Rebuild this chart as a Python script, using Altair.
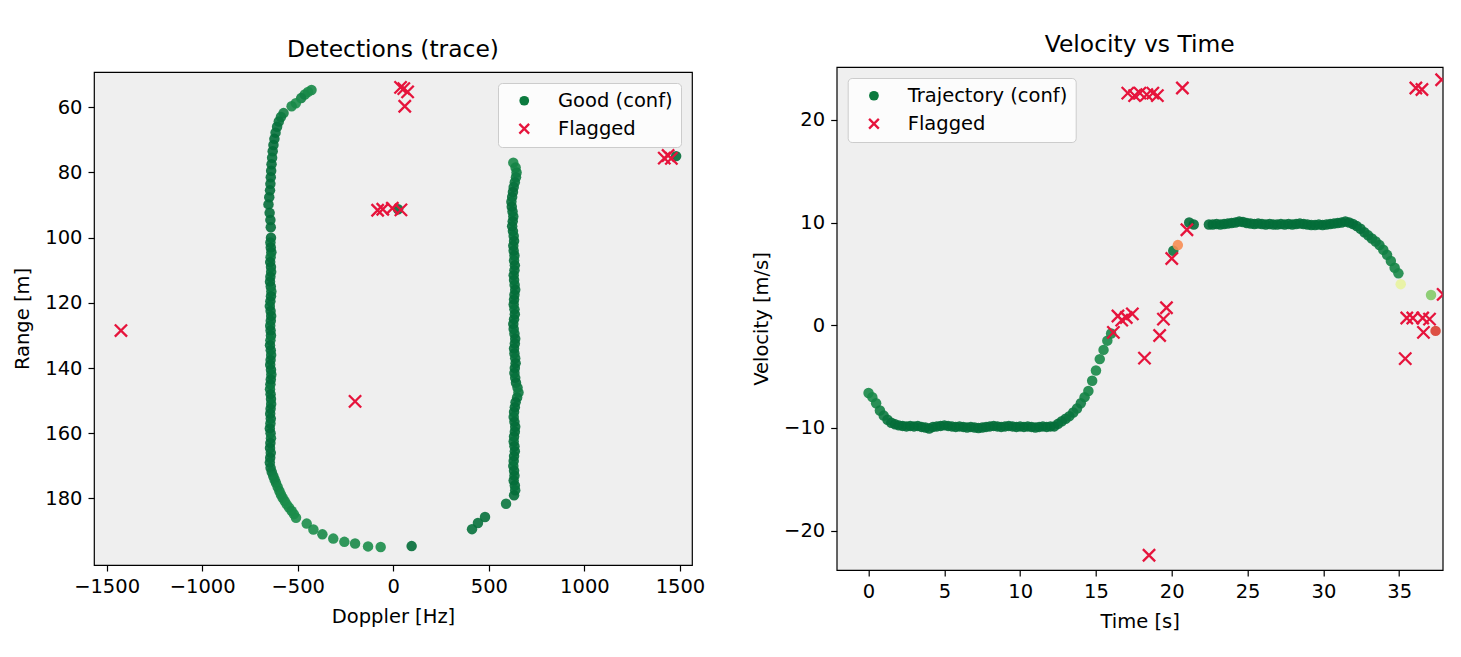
import altair as alt
import pandas as pd

# ---------------- Left panel: Detections (trace) ----------------
# Good (confirmed) detections: Doppler [Hz], Range [m], confidence
top_arc_doppler = [-428, -446, -463, -482, -510, -532, -574, -588, -599, -608, -616, -622, -627,
                   -631, -634, -637, -639, -641, -643, -645, -649, -653, -647, -643, -641]
top_arc_range = [54.7, 55.3, 56.1, 57.2, 58.8, 59.7, 61.8, 63.0, 64.4, 66.0, 67.8, 69.7, 71.6,
                 73.5, 75.5, 77.5, 79.5, 81.5, 83.5, 85.5, 87.6, 89.8, 92.4, 94.6, 96.8]
top_arc_conf = [0.93, 0.92, 0.93, 0.95, 0.92, 0.93, 0.95, 0.96, 0.97, 0.98, 0.98, 0.99, 0.99,
                0.99, 0.98, 0.99, 0.99, 0.99, 0.99, 0.99, 0.99, 0.99, 0.99, 0.99, 0.99]

left_band_doppler = [-640, -643, -641, -638, -642, -644, -640, -639, -643, -645, -641, -638, -640,
                     -643, -646, -642, -639, -641, -644, -642, -640, -643, -645, -641, -639, -642,
                     -644, -640, -638, -641, -643, -645, -642, -640, -639, -642, -644, -641, -643,
                     -646, -642, -640, -643, -645, -641, -644, -646]
left_band_range = [100, 101.5, 103, 104.5, 106, 107.5, 109, 110.5, 112, 113.5, 115, 116.5, 118,
                   119.5, 121, 122.5, 124, 125.5, 127, 128.5, 130, 131.5, 133, 134.5, 136, 137.5,
                   139, 140.5, 142, 143.5, 145, 146.5, 148, 149.5, 151, 152.5, 154, 155.5, 157,
                   158.5, 160, 161.5, 163, 164.5, 166, 167.5, 169]
left_band_conf = [0.99, 0.98, 0.99, 0.99, 0.97, 0.99, 0.99, 0.98, 0.99, 0.99, 0.99, 0.97, 0.99,
                  0.99, 0.98, 0.99, 0.99, 0.99, 0.98, 0.99, 0.99, 0.97, 0.99, 0.99, 0.98, 0.99,
                  0.99, 0.99, 0.98, 0.99, 0.99, 0.97, 0.99, 0.99, 0.98, 0.99, 0.99, 0.99, 0.98,
                  0.99, 0.99, 0.97, 0.99, 0.99, 0.98, 0.99, 0.98]

bottom_arc_doppler = [-642, -636, -628, -621, -614, -605, -596, -588, -579, -568, -558, -545,
                      -532, -520, -509, -453, -418, -371, -314, -256, -200, -132, -66]
bottom_arc_range = [170.6, 171.9, 173.1, 174.2, 175.2, 176.5, 177.7, 178.8, 179.8, 180.8, 181.8,
                    182.8, 183.8, 184.8, 185.9, 187.7, 189.5, 191.0, 192.3, 193.3, 193.8, 194.7, 194.9]
bottom_arc_conf = [0.98, 0.97, 0.96, 0.95, 0.95, 0.94, 0.94, 0.93, 0.93, 0.93, 0.92, 0.92,
                   0.93, 0.92, 0.92, 0.92, 0.92, 0.93, 0.92, 0.92, 0.93, 0.92, 0.92]

right_band_doppler = [628, 640, 645, 642, 636, 630, 626, 622, 618, 620, 624, 628, 625, 622, 626,
                      630, 632, 628, 630, 634, 632, 636, 634, 630, 632, 635, 638, 634, 632, 630,
                      634, 636, 632, 628, 630, 634, 638, 636, 632, 634, 638, 640, 636, 634, 638,
                      642, 650, 655, 648, 640, 636, 632, 630, 634, 638, 636, 632, 630, 634, 636,
                      632, 630, 628, 632, 634, 630, 636, 638, 632]
right_band_range = [77, 78.5, 80, 81.5, 83, 84.5, 86, 87.5, 89, 90.5, 92, 93.5, 95, 96.5, 98,
                    99.5, 101, 102.5, 104, 105.5, 107, 108.5, 110, 111.5, 113, 114.5, 116, 117.5,
                    119, 120.5, 122, 123.5, 125, 126.5, 128, 129.5, 131, 132.5, 134, 135.5, 137,
                    138.5, 140, 141.5, 143, 144.5, 146, 147.5, 149, 150.5, 152, 153.5, 155, 156.5,
                    158, 159.5, 161, 162.5, 164, 165.5, 167, 168.5, 170, 171.5, 173, 174.5, 176,
                    177.5, 179]
right_band_conf = [0.93, 0.94, 0.95, 0.96, 0.97, 0.98, 0.99, 0.99, 0.98, 0.99, 0.99, 0.98, 0.99,
                   0.99, 0.99, 0.98, 0.99, 0.99, 0.99, 0.99, 0.98, 0.99, 0.99, 0.99, 0.99, 0.98,
                   0.99, 0.99, 0.99, 0.99, 0.98, 0.99, 0.99, 0.99, 0.99, 0.98, 0.99, 0.99, 0.99,
                   0.99, 0.98, 0.99, 0.99, 0.99, 0.98, 0.99, 0.97, 0.96, 0.97, 0.99, 0.99, 0.99,
                   0.98, 0.99, 0.99, 0.99, 0.99, 0.98, 0.99, 0.99, 0.99, 0.99, 0.98, 0.99, 0.99,
                   0.99, 0.99, 0.98, 0.99]

extra_doppler = [590, 480, 443, 412, 96, 25, 1480]
extra_range = [181.6, 185.7, 187.5, 189.4, 194.6, 91.3, 75.0]
extra_conf = [0.97, 0.98, 0.98, 0.98, 0.99, 0.99, 0.99]

# Flagged detections (left)
flag_doppler = [38, 55, 75, 60, -82, -55, -5, 40, 1418, 1438, 1455, -1425, -200]
flag_range = [53.9, 54.3, 55.3, 59.7, 91.6, 91.3, 91.0, 91.5, 75.6, 74.8, 75.7, 128.5, 150.2]

# ---------------- Right panel: Velocity vs Time ----------------
seg1_time = [0, 0.25, 0.5, 0.75, 1.0, 1.25, 1.5, 1.75, 2.0, 2.25, 2.5, 2.75, 3.0, 3.25, 3.5, 3.75,
             4.0, 4.25, 4.5, 4.75, 5.0, 5.25, 5.5, 5.75, 6.0, 6.25, 6.5, 6.75, 7.0, 7.25, 7.5, 7.75,
             8.0, 8.25, 8.5, 8.75, 9.0, 9.25, 9.5, 9.75, 10.0, 10.25, 10.5, 10.75, 11.0, 11.25,
             11.5, 11.75, 12.0, 12.25, 12.5, 12.75, 13.0, 13.25, 13.5, 13.75, 14.0, 14.25, 14.5,
             14.75, 15.0, 15.25, 15.5, 15.75, 16.0]
seg1_vel = [-6.6, -7.0, -7.6, -8.3, -8.8, -9.2, -9.5, -9.65, -9.75, -9.8, -9.85, -9.8, -9.85,
            -9.8, -9.9, -9.95, -10.05, -9.9, -9.85, -9.8, -9.75, -9.8, -9.85, -9.9, -9.85, -9.9,
            -9.95, -9.9, -9.95, -10.0, -9.95, -9.9, -9.85, -9.8, -9.85, -9.9, -9.85, -9.8, -9.85,
            -9.9, -9.85, -9.9, -9.85, -9.9, -9.95, -9.9, -9.85, -9.9, -9.85, -9.85, -9.6, -9.35,
            -9.1, -8.85, -8.5, -8.1, -7.6, -7.0, -6.4, -5.4, -4.4, -3.3, -2.4, -1.5, -0.8]
seg1_conf = [0.93, 0.93, 0.94, 0.95, 0.96, 0.97, 0.98, 0.99, 0.99, 0.99, 0.99, 0.99, 0.99,
             0.99, 0.99, 0.99, 0.99, 0.99, 0.99, 0.99, 0.99, 0.99, 0.99, 0.99, 0.99, 0.99,
             0.99, 0.99, 0.99, 0.99, 0.99, 0.99, 0.99, 0.99, 0.99, 0.99, 0.99, 0.99, 0.99,
             0.99, 0.99, 0.99, 0.99, 0.99, 0.99, 0.99, 0.99, 0.99, 0.99, 0.99, 0.99, 0.98,
             0.98, 0.97, 0.97, 0.96, 0.96, 0.95, 0.94, 0.94, 0.93, 0.93, 0.93, 0.93, 0.93]

seg2_time = [20.1, 21.15, 21.45]
seg2_vel = [7.25, 10.0, 9.8]
seg2_conf = [0.97, 0.99, 0.99]

seg3_time = [22.45, 22.7, 22.95, 23.2, 23.45, 23.7, 23.95, 24.2, 24.45, 24.7, 24.95, 25.2, 25.45,
             25.7, 25.95, 26.2, 26.45, 26.7, 26.95, 27.2, 27.45, 27.7, 27.95, 28.2, 28.45, 28.7,
             28.95, 29.2, 29.45, 29.7, 29.95, 30.2, 30.45, 30.7, 30.95, 31.2, 31.45, 31.7, 31.95,
             32.2, 32.45, 32.7, 32.95, 33.2, 33.45, 33.7, 33.95, 34.2, 34.45, 34.7, 34.95]
seg3_vel = [9.8, 9.8, 9.85, 9.8, 9.85, 9.9, 9.95, 10.0, 10.1, 10.05, 9.95, 9.9, 9.85, 9.9, 9.85,
            9.8, 9.85, 9.8, 9.8, 9.85, 9.8, 9.85, 9.8, 9.85, 9.9, 9.85, 9.8, 9.75, 9.75, 9.8,
            9.75, 9.8, 9.85, 9.9, 9.95, 10.0, 10.1, 10.0, 9.85, 9.65, 9.4, 9.05, 8.75, 8.45, 8.15,
            7.8, 7.35, 6.85, 6.25, 5.6, 5.05]
seg3_conf = [0.99, 0.99, 0.99, 0.99, 0.99, 0.99, 0.99, 0.99, 0.99, 0.99, 0.99, 0.99, 0.99,
             0.99, 0.99, 0.99, 0.99, 0.99, 0.99, 0.99, 0.99, 0.99, 0.99, 0.99, 0.99, 0.99,
             0.99, 0.99, 0.99, 0.99, 0.99, 0.99, 0.99, 0.99, 0.99, 0.99, 0.99, 0.99, 0.99,
             0.99, 0.98, 0.98, 0.97, 0.97, 0.96, 0.96, 0.95, 0.95, 0.94, 0.94, 0.93]

# low-confidence trajectory points (drawn last)
low_time = [20.4, 35.1, 37.1, 37.4]
low_vel = [7.8, 4.0, 2.95, -0.55]
low_conf = [0.25, 0.55, 0.75, 0.12]

# Flagged (right)
flagr_time = [17.1, 17.55, 17.9, 18.35, 18.75, 19.05, 20.7, 16.15, 16.45, 16.7, 17.0, 17.4, 18.2,
              18.5, 19.2, 19.45, 19.65, 20.0, 21.0, 35.4, 35.5, 35.9, 36.55, 37.0, 36.6, 36.1,
              36.5, 37.8, 37.9]
flagr_vel = [22.6, 22.35, 22.6, 22.45, 22.6, 22.35, 23.1, -0.7, 0.9, 0.5, 0.75, 1.1, -3.2, -22.4,
             -1.0, 0.6, 1.7, 6.5, 9.3, -3.25, 0.7, 0.7, 0.7, 0.6, -0.7, 23.1, 22.95, 23.9, 3.0]

doppler_ticks = [-1500, -1000, -500, 0, 500, 1000, 1500]
range_ticks = [60, 80, 100, 120, 140, 160, 180]
time_ticks = [0, 5, 10, 15, 20, 25, 30, 35]
vel_ticks = [-20, -10, 0, 10, 20]

# ---------------- styling ----------------
FONT = "DejaVu Sans"
LEGEND_GREEN = "#0b7a3e"
CRIMSON = "#e6143c"
X_SHAPE = "M-1,-1L1,1M-1,1L1,-1"

left_good = pd.DataFrame({
    "doppler": top_arc_doppler + left_band_doppler + bottom_arc_doppler + right_band_doppler + extra_doppler,
    "range": top_arc_range + left_band_range + bottom_arc_range + right_band_range + extra_range,
    "conf": top_arc_conf + left_band_conf + bottom_arc_conf + right_band_conf + extra_conf,
})
left_flag = pd.DataFrame({"doppler": flag_doppler, "range": flag_range,
                          "series": ["Flagged"] * len(flag_doppler)})

right_good = pd.DataFrame({
    "time": seg1_time + seg2_time + seg3_time + low_time,
    "vel": seg1_vel + seg2_vel + seg3_vel + low_vel,
    "conf": seg1_conf + seg2_conf + seg3_conf + low_conf,
})
right_flag = pd.DataFrame({"time": flagr_time, "vel": flagr_vel,
                           "series": ["Flagged"] * len(flagr_time)})


def panel(good, flag, xf, yf, xdom, ydom, yrev, xticks, yticks, xtitle, ytitle,
          title, good_label, orient, width, height, title_offset):
    x = alt.X(f"{xf}:Q", scale=alt.Scale(domain=xdom, nice=False, zero=False),
              axis=alt.Axis(values=xticks, format="d", title=xtitle))
    y = alt.Y(f"{yf}:Q", scale=alt.Scale(domain=ydom, nice=False, zero=False, reverse=yrev),
              axis=alt.Axis(values=yticks, format="d", title=ytitle))
    pts = alt.Chart(good).mark_circle(size=110, opacity=0.9, clip=True).encode(
        x=x, y=y,
        color=alt.Color("conf:Q", scale=alt.Scale(scheme="redyellowgreen", domain=[0, 1]), legend=None),
    )
    labels = [good_label, "Flagged"]
    leg = alt.Legend(title=None, orient=orient, offset=11, fillColor="rgba(255,255,255,0.8)",
                     strokeColor="#cccccc", cornerRadius=4, padding=8, labelFontSize=19.5,
                     labelFont=FONT, labelColor="black", symbolSize=95, symbolStrokeWidth=2.3,
                     symbolOffset=8.5, labelOffset=24, rowPadding=7, symbolOpacity=1)
    xs = alt.Chart(flag).mark_point(size=150, strokeWidth=2.3, opacity=1, clip=True).encode(
        x=x, y=y,
        fill=alt.Fill("series:N", scale=alt.Scale(domain=labels, range=[LEGEND_GREEN, "transparent"]), legend=leg),
        stroke=alt.Stroke("series:N", scale=alt.Scale(domain=labels, range=["transparent", CRIMSON]), legend=leg),
        shape=alt.Shape("series:N", scale=alt.Scale(domain=labels, range=["circle", X_SHAPE]), legend=leg),
    )
    return alt.layer(pts, xs).properties(
        width=width, height=height,
        title=alt.Title(title, offset=title_offset),
    )


left = panel(left_good, left_flag, "doppler", "range", [-1566, 1563], [49.2, 200.4], True,
             doppler_ticks, range_ticks, "Doppler [Hz]", "Range [m]", "Detections (trace)",
             "Good (conf)", "top-right", 598, 493, 10)
right = panel(right_good, right_flag, "time", "vel", [-2.1, 37.87], [-23.83, 25.14], False,
              time_ticks, vel_ticks, "Time [s]", "Velocity [m/s]", "Velocity vs Time",
              "Trajectory (conf)", "top-left", 606, 503, 10)

chart = alt.hconcat(left, right, spacing=144.7, bounds="flush", center=True).resolve_scale(
    fill="independent", stroke="independent", shape="independent", color="independent"
).resolve_legend(
    fill="independent", stroke="independent", shape="independent"
).properties(
    padding={"left": 12, "top": 32, "right": 12, "bottom": 10},
    background="white",
).configure(font=FONT).configure_view(
    fill="#efefef", stroke="black", strokeWidth=1.2
).configure_axis(
    domain=False, grid=False, tickColor="black", tickSize=6, tickWidth=1.2,
    labelFont=FONT, labelFontSize=19.5, labelColor="black", labelPadding=6,
    titleFont=FONT, titleFontSize=19.5, titleFontWeight="normal", titleColor="black",
    titlePadding=12,
).configure_title(
    font=FONT, fontSize=23.4, fontWeight="normal", color="black", anchor="middle",
)

chart.save("out.html", embed_options={"renderer": "svg", "actions": False})
